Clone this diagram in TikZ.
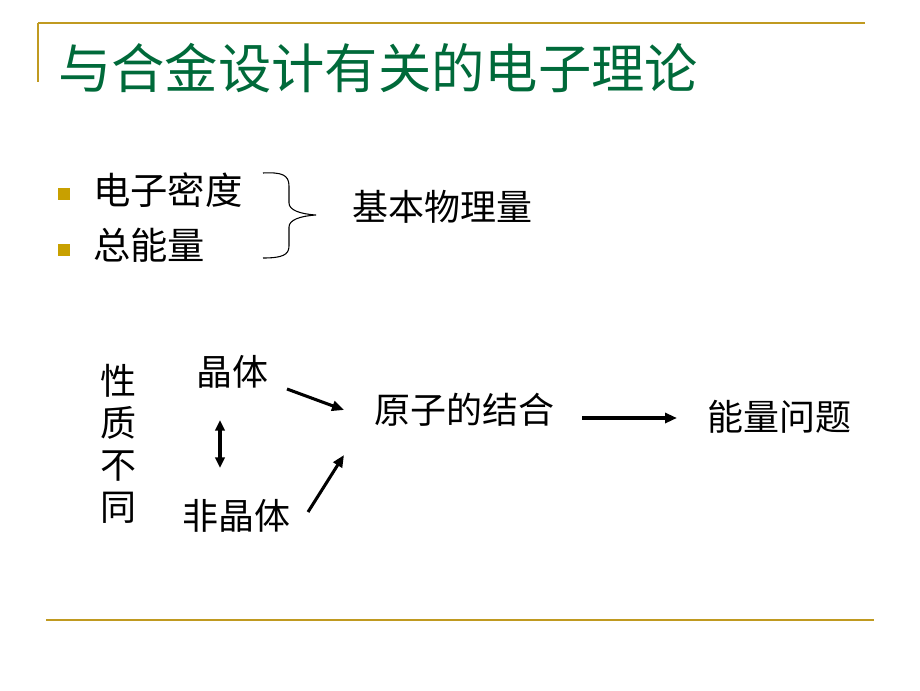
\documentclass[tikz,border=0pt]{standalone}
\usepackage{fontspec}
\newfontfamily\cjk{Noto Sans CJK SC}
\usetikzlibrary{arrows.meta}
\definecolor{gold}{HTML}{C09A20}
\definecolor{bulletgold}{HTML}{C8A000}
\definecolor{titlegreen}{HTML}{006A3A}
\tikzset{
  rule/.style={draw=gold,line width=1.6pt},
  txt/.style={inner sep=0pt,font=\cjk\fontsize{27}{30}\selectfont},
  bigtxt/.style={inner sep=0pt,font=\cjk\fontsize{28}{32}\selectfont},
  bul/.style={fill=bulletgold,minimum size=9.5pt,inner sep=0pt},
  arr/.style={line width=2.3pt,-{Triangle[length=9pt,width=7.5pt]}},
}
\begin{document}
\begin{tikzpicture}[x=0.75pt,y=-0.75pt]
\useasboundingbox (0,0) rectangle (920,690);
% frame lines
\draw[rule] (38,23) -- (865,23);
\draw[rule] (38,23) -- (38,82);
\draw[rule] (46,620) -- (874,620);
% title
\node[inner sep=0pt,anchor=west,text=titlegreen,font=\cjk\fontsize{40}{44}\selectfont] (title) at (58,68) {与合金设计有关的电子理论};
% bullets
\node[bul] (b1) at (64,194) {};
\node[bul] (b2) at (64,250) {};
\node[bigtxt,anchor=west] (t1) at (93,190) {电子密度};
\node[bigtxt,anchor=west] (t2) at (93,245) {总能量};
% brace
\coordinate (brtop) at (263,173);
\coordinate (brbot) at (263,258);
\coordinate (brtip) at (316,215);
\draw[line width=0.8pt] (brtop) .. controls (282,172) and (289,175) .. (289,186) -- (289,203)
  .. controls (289,210) and (300,214) .. (brtip)
  .. controls (300,216) and (289,220) .. (289,227) -- (289,246)
  .. controls (289,255) and (282,258) .. (brbot);
\node[txt,anchor=west] (phys) at (352,207) {基本物理量};
% lower part
\node[txt,align=center,font=\cjk\fontsize{27}{31.5}\selectfont] (xz) at (118,444) {性\\质\\不\\同};
\node[txt] (jt) at (232,372) {晶体};
\node[txt] (fjt) at (236,516) {非晶体};
\node[txt] (yz) at (464,410) {原子的结合};
\node[txt] (nl) at (779,417) {能量问题};
\coordinate (a1s) at (287,389);
\coordinate (a1e) at (344,410);
\coordinate (a2s) at (308,512);
\coordinate (a2e) at (344,455);
\coordinate (dts) at (220,420);
\coordinate (dte) at (220,468);
\coordinate (hs) at (582,418);
\coordinate (he) at (677,418);
\draw[arr] (a1s) -- (a1e);
\draw[arr] (a2s) -- (a2e);
\draw[line width=2.3pt,{Triangle[length=8pt,width=7pt]}-{Triangle[length=8pt,width=7pt]}] (dts) -- (dte);
\draw[arr] (hs) -- (he);
\end{tikzpicture}
\end{document}
